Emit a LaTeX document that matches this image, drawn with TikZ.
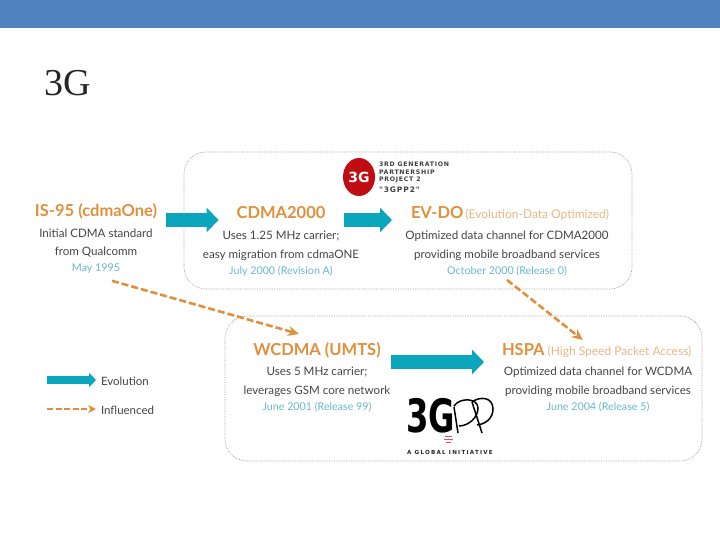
\documentclass[tikz,border=0pt]{standalone}
\usepackage{fontspec}
\setmainfont{Lato}
\newfontfamily\slidefont{Liberation Serif}
\newfontfamily\capfont[LetterSpace=12]{DejaVu Sans Bold}
\newfontfamily\logofont[LetterSpace=22]{DejaVu Sans Bold}
\newfontfamily\bigfont{DejaVu Sans Bold}
\usetikzlibrary{arrows.meta, positioning, shapes.geometric}
\definecolor{slideblue}{HTML}{4F81BD}
\definecolor{gorange}{HTML}{E08F3C}
\definecolor{glightorange}{HTML}{E9B585}
\definecolor{gteal}{HTML}{0BA5BC}
\definecolor{gdate}{HTML}{67B8C9}
\definecolor{gtext}{HTML}{444444}
\definecolor{gframe}{HTML}{999999}
\definecolor{gred}{HTML}{C00D12}

\begin{document}
\begin{tikzpicture}[
  x=1pt, y=-1pt,
  every node/.style={inner sep=0pt, outer sep=0pt},
  techbox/.style={draw=gframe, line width=0.7pt, densely dotted, rounded corners=22pt},
  gentitle/.style={font=\fontsize{16.5}{16.5}\selectfont\bfseries, text=gorange,
                   text height=10pt, text depth=3pt},
  gensub/.style={font=\fontsize{12}{12}\selectfont, text=glightorange},
  gendesc/.style={font=\fontsize{11.6}{11.6}\selectfont, text=gtext},
  gendate/.style={font=\fontsize{10.7}{10.7}\selectfont, text=gdate},
  legendtext/.style={font=\fontsize{11.5}{11.5}\selectfont, text=gtext, anchor=west},
  capline/.style={font=\capfont\fontsize{6.2}{6.2}\selectfont, text=black!75, anchor=west},
  evolve/.style={-{Triangle[length=12pt, width=24pt]}, line width=14pt, color=gteal},
  influence/.style={-{Stealth[length=11pt, width=10pt]}, line width=2.6pt, color=gorange,
                    dash pattern=on 7pt off 3pt}
]

\useasboundingbox (0,0) rectangle (720,540);
\fill[slideblue] (0,0) rectangle (720,28);
\node[font=\slidefont\fontsize{38}{38}\selectfont, text=black!85, anchor=west] (slidetitle) at (44,83) {3G};

\node[techbox, minimum width=448pt, minimum height=137pt] (cdmabox) at (408,220.5) {};
\node[techbox, minimum width=477pt, minimum height=145pt] (umtsbox) at (463.5,388.5) {};

\node[gentitle] (is95) at (96,213) {IS-95 (cdmaOne)};
\node[gendesc] (is95a) at (96,233) {Initial CDMA standard};
\node[gendesc] (is95b) at (96,252) {from Qualcomm};
\node[gendate] (is95d) at (96,269) {May 1995};

\node[gentitle] (cdma) at (281,215) {CDMA2000};
\node[gendesc] (cdmaa) at (281,236) {Uses 1.25 MHz carrier;};
\node[gendesc] (cdmab) at (281,255) {easy migration from cdmaONE};
\node[gendate] (cdmad) at (281,271) {July 2000 (Revision A)};

\node[gentitle, anchor=west] (evdo) at (411,215) {EV-DO};
\node[gensub, anchor=west, right=2pt of evdo] (evdosub) {(Evolution-Data Optimized)};
\node[gendesc] (evdoa) at (507,236) {Optimized data channel for CDMA2000};
\node[gendesc] (evdob) at (507,255) {providing mobile broadband services};
\node[gendate] (evdod) at (507,271) {October 2000 (Release 0)};

\node[gentitle] (wcdma) at (317,352) {WCDMA (UMTS)};
\node[gendesc] (wcdmaa) at (317,372) {Uses 5 MHz carrier;};
\node[gendesc] (wcdmab) at (317,391) {leverages GSM core network};
\node[gendate] (wcdmad) at (317,407) {June 2001 (Release 99)};

\node[gentitle, anchor=west] (hspa) at (502,352) {HSPA};
\node[gensub, anchor=west, right=3pt of hspa] (hspasub) {(High Speed Packet Access)};
\node[gendesc] (hspaa) at (598,372) {Optimized data channel for WCDMA};
\node[gendesc] (hspab) at (598,391) {providing mobile broadband services};
\node[gendate] (hspad) at (598,407) {June 2004 (Release 5)};

\draw[evolve] ([shift={(9,7)}]is95.east) -- ([shift={(-18,5)}]cdma.west);
\draw[evolve] ([shift={(19,5)}]cdma.east) -- ([shift={(-19,5)}]evdo.west);
\draw[evolve] ([shift={(10,10)}]wcdma.east) -- ([shift={(-18,10)}]hspa.west);

\draw[influence] ([shift={(16,7)}]is95d.south) -- ([shift={(-18,-11.5)}]wcdma.north);
\draw[influence] ([shift={(0,4)}]evdod.south) -- ([shift={(59.5,-5.5)}]hspa.north);

% legend
\node[legendtext] (evolegend) at (101,381) {Evolution};
\node[legendtext] (inflegend) at (101,410) {Influenced};
\coordinate (evostart) at (47,380);
\coordinate (infstart) at (47,409);
\draw[-{Triangle[length=7pt, width=14pt]}, line width=8pt, color=gteal] (evostart) -- ([shift={(-5,-1)}]evolegend.west);
\draw[-{Stealth[length=8pt, width=8pt]}, line width=1.8pt, color=gorange, dash pattern=on 6pt off 2.5pt] (infstart) -- ([shift={(-5,-1)}]inflegend.west);

% 3GPP2 logo
\node[ellipse, fill=gred, minimum width=32pt, minimum height=38pt, text=white,
      font=\bigfont\fontsize{14}{14}\selectfont] (logotwo) at (359,177) {3G};
\node[capline] (capa) at (379,164) {3RD GENERATION};
\node[capline] (capb) at (379,172) {PARTNERSHIP};
\node[capline] (capc) at (379,180) {PROJECT 2};
\node[capline, font=\capfont\fontsize{7.5}{7.5}\selectfont] (capd) at (379,190) {"3GPP2"};

% 3GPP logo
\node[font=\bigfont\fontsize{46}{46}\selectfont, text=black, xscale=0.7, transform shape] (logoone) at (431,416) {3G};
\draw[black, line width=1.5pt] (454,407) -- (458,433) (454,406) .. controls (460,397) and (478,398) .. (478,408) .. controls (478,418) and (468,426) .. (459,426);
\draw[black, line width=1.5pt] (472,402) -- (482,433) (472,402) .. controls (480,396) and (493,397) .. (493,409) .. controls (493,418) and (486,424) .. (477,425);
\draw[gred!70, line width=0.8pt] (445,436) -- (452,436) (444,439) -- (453,439) (446,442) -- (451,442);
\node[font=\logofont\fontsize{5.6}{5.6}\selectfont, text=black!85] (logocap) at (450,452) {A GLOBAL INITIATIVE};

\end{tikzpicture}
\end{document}
